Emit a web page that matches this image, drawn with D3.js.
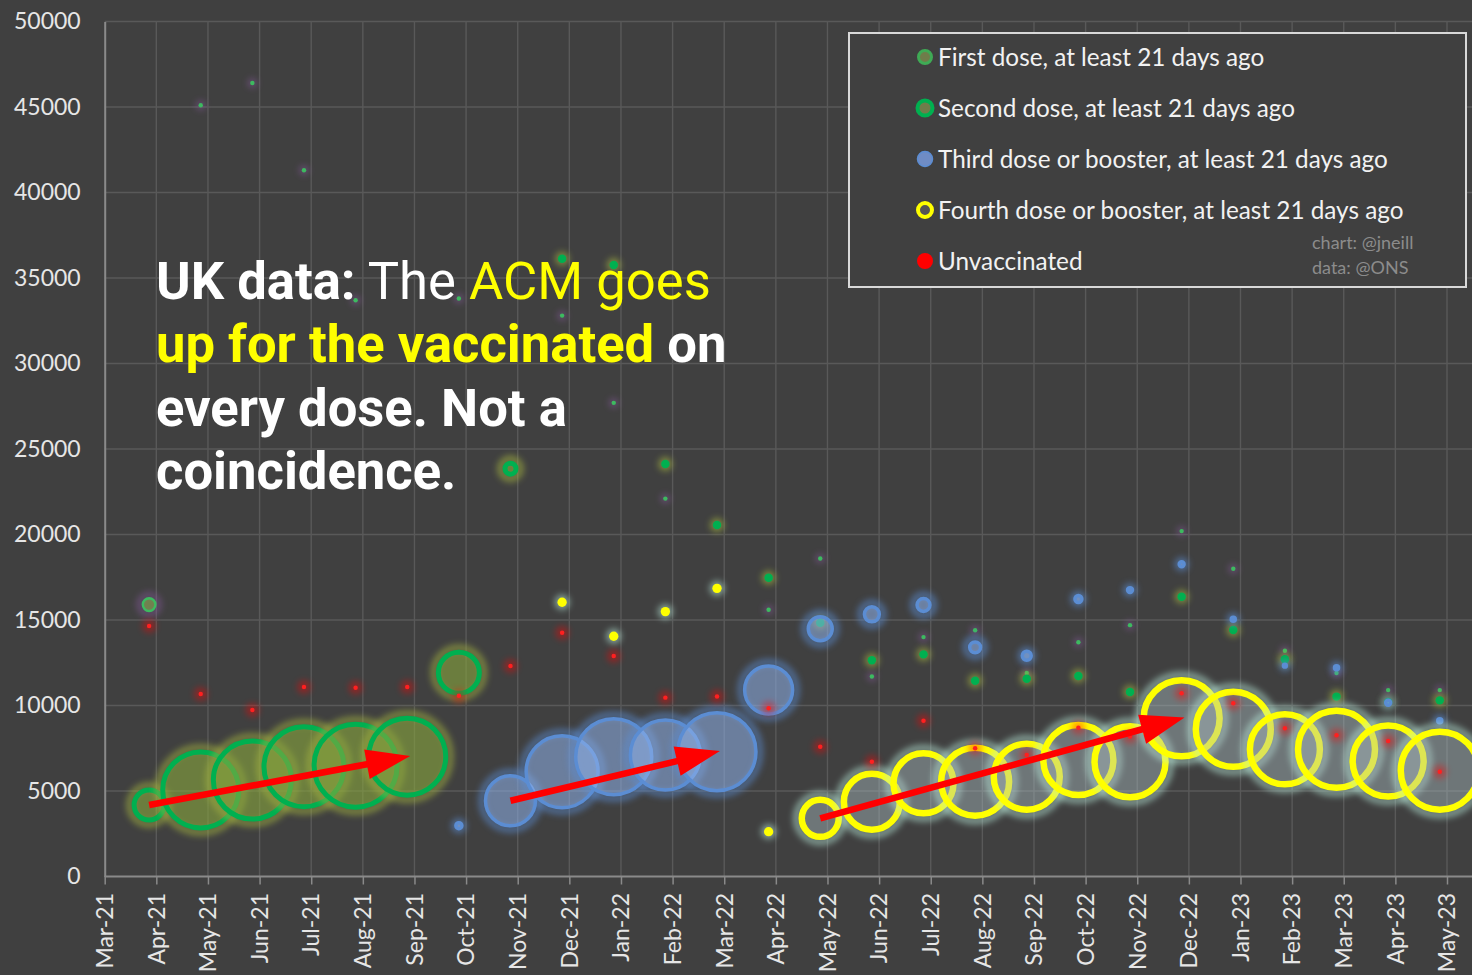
<!DOCTYPE html>
<html><head><meta charset="utf-8">
<script src="https://cdn.jsdelivr.net/npm/d3@7"></script>
<style>
html,body{margin:0;padding:0;background:#404040;}
svg{display:block;}
</style></head><body>
<svg id="chart" width="1472" height="975"></svg>
<script>
// ---------------- DATA ----------------
const xTickLabels = ["Mar-21","Apr-21","May-21","Jun-21","Jul-21","Aug-21","Sep-21","Oct-21","Nov-21","Dec-21",
  "Jan-22","Feb-22","Mar-22","Apr-22","May-22","Jun-22","Jul-22","Aug-22","Sep-22","Oct-22","Nov-22","Dec-22",
  "Jan-23","Feb-23","Mar-23","Apr-23","May-23"];
const yTickValues = [0,5000,10000,15000,20000,25000,30000,35000,40000,45000,50000];
// data months: Apr-21 .. May-23 (26 months)
const dataMonths = xTickLabels.slice(1);

const firstDose = [15900,45100,46400,41300,33700,null,33800,null,32800,27700,22100,null,15600,18600,
  11700,14000,14400,11900,13700,14700,20200,18000,13200,11900,10900,10900];
const firstDoseSize = [40,1,1,1,1,null,1,null,1,1,1,null,1,1,1,1,1,1,1,1,1,1,1,1,1,1];

const secondDose = [4180,5060,5640,6420,6480,7010,11920,23850,36130,35760,24120,20550,17470,14840,
  12640,12990,11450,11570,11730,10790,16360,14420,12700,10520,10200,10300];
const secondDoseSize = [225,1444,1521,1600,1722,1482,420,30,3,3,3,3,3,3,3,3,3,3,3,3,3,3,3,3,3,3];

const thirdDose = [null,null,null,null,null,null,2970,4430,6130,7010,7110,7300,10910,14490,
  15330,15880,13400,12910,16230,16750,18260,15040,12330,12210,10160,9110];
const thirdDoseSize = [null,null,null,null,null,null,9,625,1296,1444,1225,1521,576,144,
  56,42,30,20,12,6,6,4,2,4,6,4];

const fourthDose = [null,null,null,null,null,null,null,null,16040,14050,15490,16850,2620,3400,
  4370,5450,5540,5840,6810,6710,9250,8610,7440,7440,6750,6190];
const fourthDoseSize = [null,null,null,null,null,null,null,null,2,2,2,2,2,342,
  784,900,1156,1089,1225,1260,1444,1406,1225,1482,1260,1521];

const unvaccinated = [14650,10670,9740,11080,11040,11080,10570,12310,14260,12900,10460,10520,9840,7590,
  6710,9110,7500,7110,8700,8180,10710,10130,8670,8260,7920,6130];
const unvaccinatedSize = dataMonths.map(() => 5);

const legendLabels = ["First dose, at least 21 days ago","Second dose, at least 21 days ago",
  "Third dose or booster, at least 21 days ago","Fourth dose or booster, at least 21 days ago","Unvaccinated"];

// arrows: series key, from month, to month
const arrowSpecs = [
  {series:"second", from:"Apr-21", to:"Sep-21"},
  {series:"third", from:"Nov-21", to:"Mar-22"},
  {series:"fourth", from:"May-22", to:"Dec-22"}
];

// ---------------- CHART ----------------
const W = 1472, H = 975;
const svg = d3.select("#chart");
const x = d3.scaleLinear().domain([0, 26]).range([104.7, 1447]);
const y = d3.scaleLinear().domain([0, 50000]).range([876.5, 21.5]);
const rs = d3.scaleSqrt().domain([0, 1600]).range([0, 40]);
const pointShift = -0.14; // points sit just before month tick
const px = i => x(i + 1 + pointShift);
const labelFont = "Lato, 'Open Sans', sans-serif";

svg.append("rect").attr("width", W).attr("height", H).attr("fill", "#404040");

const defs = svg.append("defs");
function blurFilter(id, sd){
  defs.append("filter").attr("id", id).attr("filterUnits","userSpaceOnUse")
    .attr("x",0).attr("y",0).attr("width",W).attr("height",H)
    .append("feGaussianBlur").attr("stdDeviation", sd);
}
blurFilter("blur2", 2);
blurFilter("blur3", 3);
blurFilter("blur4", 4);

// gridlines
const grid = svg.append("g");
grid.selectAll("line.h").data(yTickValues.filter(v => v > 0)).join("line")
  .attr("x1", x(0)).attr("x2", W).attr("y1", d => y(d)).attr("y2", d => y(d))
  .attr("stroke", "#595959").attr("stroke-width", 1.4);
grid.selectAll("line.v").data(d3.range(1, 28)).join("line")
  .attr("x1", d => x(d)).attr("x2", d => x(d)).attr("y1", y(50000)).attr("y2", y(0))
  .attr("stroke", "#595959").attr("stroke-width", 1.4);

// axes
const yAxis = d3.axisLeft(y).tickValues(yTickValues).tickSize(0).tickPadding(24).tickFormat(d3.format("d"));
const gy = svg.append("g").attr("transform", `translate(${x(0)},0)`).call(yAxis);
gy.select(".domain").attr("stroke", "#8a8a8a").attr("stroke-width", 2);
gy.selectAll("text").attr("fill", "#e6e6e6").attr("font-family", labelFont).attr("font-size", 23);

const xAxis = d3.axisBottom(x).tickValues(d3.range(0, 27)).tickSize(8).tickFormat(() => "");
const gx = svg.append("g").attr("transform", `translate(0,${y(0)})`).call(xAxis);
gx.select(".domain").attr("stroke", "#8a8a8a").attr("stroke-width", 2).attr("d", `M${x(0)},0H${W}`);
gx.selectAll(".tick line").attr("stroke", "#8a8a8a").attr("stroke-width", 1.5);
svg.append("g").selectAll("text").data(xTickLabels).join("text")
  .attr("transform", (d, i) => `translate(${x(i)},893) rotate(-90)`)
  .attr("text-anchor", "end").attr("dy", "0.36em")
  .attr("fill", "#e6e6e6").attr("font-family", labelFont).attr("font-size", 23)
  .text(d => d);

// series
const series = [
  {key:"first", values:firstDose, sizes:firstDoseSize, fill:"rgba(120,140,80,0.85)", stroke:"#3dba60", sw:2.4, glow:"#8a5aa0", glowOp:0.45},
  {key:"second", values:secondDose, sizes:secondDoseSize, fill:"rgba(136,166,62,0.6)", stroke:"#00b050", sw:5, glow:"#a0b040", glowOp:0.6},
  {key:"third", values:thirdDose, sizes:thirdDoseSize, fill:"rgba(142,177,234,0.55)", stroke:"#5b8dd3", sw:3.5, glow:"#5b8dd3", glowOp:0.55},
  {key:"fourth", values:fourthDose, sizes:fourthDoseSize, fill:"rgba(175,192,198,0.42)", stroke:"#ffff00", sw:6.5, glow:"#b8e8d8", glowOp:0.55},
  {key:"unvacc", values:unvaccinated, sizes:unvaccinatedSize, fill:"#ff2020", stroke:"none", sw:0, glow:"#ff0000", glowOp:0.4}
];

const centers = {};
series.forEach(s => {
  const pts = s.values.map((v, i) => ({i, v, size: s.sizes[i], month: dataMonths[i]})).filter(d => d.v != null);
  centers[s.key] = {};
  const g = svg.append("g");
  pts.forEach(d => {
    const cx = px(d.i), cy = y(d.v), r = rs(d.size);
    centers[s.key][d.month] = [cx, cy];
    const rOut = r + s.sw / 2;
    const pg = g.append("g");
    if (rOut > 7) {
      pg.append("circle").attr("cx", cx).attr("cy", cy).attr("r", rOut + 2)
        .attr("fill", "none").attr("stroke", s.glow).attr("stroke-width", 7)
        .attr("opacity", s.glowOp).attr("filter", "url(#blur3)");
    } else {
      pg.append("circle").attr("cx", cx).attr("cy", cy).attr("r", rOut + (s.key === "unvacc" ? 4.5 : 3))
        .attr("fill", s.glow).attr("opacity", s.glowOp).attr("filter", "url(#blur3)");
    }
    if (s.sw / 2 >= r) {
      // stroke covers the whole bubble: draw it as a solid dot
      pg.append("circle").attr("cx", cx).attr("cy", cy).attr("r", rOut).attr("fill", s.stroke);
    } else {
      pg.append("circle").attr("cx", cx).attr("cy", cy).attr("r", r)
        .attr("fill", s.fill).attr("stroke", s.stroke).attr("stroke-width", s.sw);
    }
  });
});

// arrows
const ag = svg.append("g");
arrowSpecs.forEach(a => {
  const [x1, y1] = centers[a.series][a.from];
  const [x2, y2] = centers[a.series][a.to];
  const dx = x2 - x1, dy = y2 - y1, L = Math.hypot(dx, dy);
  const ux = dx / L, uy = dy / L, nx = -uy, ny = ux;
  const tipX = x2 + ux * 3, tipY = y2 + uy * 3;
  const headLen = 44, headHalf = 15, shaftHalf = 3.3;
  const bx = tipX - ux * headLen, by = tipY - uy * headLen;
  const p = d3.path();
  p.moveTo(x1 + nx * shaftHalf, y1 + ny * shaftHalf);
  p.lineTo(bx + nx * shaftHalf, by + ny * shaftHalf);
  p.lineTo(bx + nx * headHalf, by + ny * headHalf);
  p.lineTo(tipX, tipY);
  p.lineTo(bx - nx * headHalf, by - ny * headHalf);
  p.lineTo(bx - nx * shaftHalf, by - ny * shaftHalf);
  p.lineTo(x1 - nx * shaftHalf, y1 - ny * shaftHalf);
  p.closePath();
  ag.append("path").attr("d", p.toString()).attr("fill", "#ff0000");
});

// title annotation
const title = svg.append("text").attr("font-family", "Roboto, sans-serif").attr("font-size", 52.6)
  .attr("xml:space", "preserve");
const lines = [
  {y:299, parts:[["UK data:",700,"#ffffff"],[" The ",400,"#ffffff"],["ACM goes",400,"#ffff00"]]},
  {y:362, parts:[["up for the vaccinated",700,"#ffff00"],[" on",700,"#ffffff"]]},
  {y:426, parts:[["every dose. Not a",700,"#ffffff"]]},
  {y:489, parts:[["coincidence.",700,"#ffffff"]]}
];
lines.forEach(l => {
  l.parts.forEach((p, k) => {
    const t = title.append("tspan").text(p[0]).attr("font-weight", p[1]).attr("fill", p[2])
      .style("white-space", "pre");
    if (k === 0) t.attr("x", 156).attr("y", l.y);
  });
});

// legend
const lg = svg.append("g");
lg.append("rect").attr("x", 849).attr("y", 33).attr("width", 617).attr("height", 254)
  .attr("fill", "#404040").attr("stroke", "#d9d9d9").attr("stroke-width", 2);
const legendMarkers = [
  {r:6.5, fill:"#6f7d4a", stroke:"#3faa55", sw:3},
  {r:7.5, fill:"#6f7d4a", stroke:"#00b050", sw:4},
  {r:7.5, fill:"#6f8cc4", stroke:"#5b8dd3", sw:1.5},
  {r:7, fill:"#555555", stroke:"#ffff00", sw:4},
  {r:8, fill:"#ff0000", stroke:"none", sw:0}
];
legendLabels.forEach((lab, i) => {
  const cy = 57 + i * 51;
  const m = legendMarkers[i];
  lg.append("circle").attr("cx", 925).attr("cy", cy).attr("r", m.r)
    .attr("fill", m.fill).attr("stroke", m.stroke).attr("stroke-width", m.sw);
  lg.append("text").attr("x", 938).attr("y", cy).attr("dy", "0.36em")
    .attr("fill", "#f2f2f2").attr("font-family", labelFont).attr("font-size", 24.3)
    .text(lab);
});
lg.append("text").attr("x", 1312).attr("y", 249).attr("fill", "#8c8c8c")
  .attr("font-family", labelFont).attr("font-size", 18).text("chart: @jneill");
lg.append("text").attr("x", 1312).attr("y", 274).attr("fill", "#8c8c8c")
  .attr("font-family", labelFont).attr("font-size", 18).text("data: @ONS");
</script>
</body></html>
